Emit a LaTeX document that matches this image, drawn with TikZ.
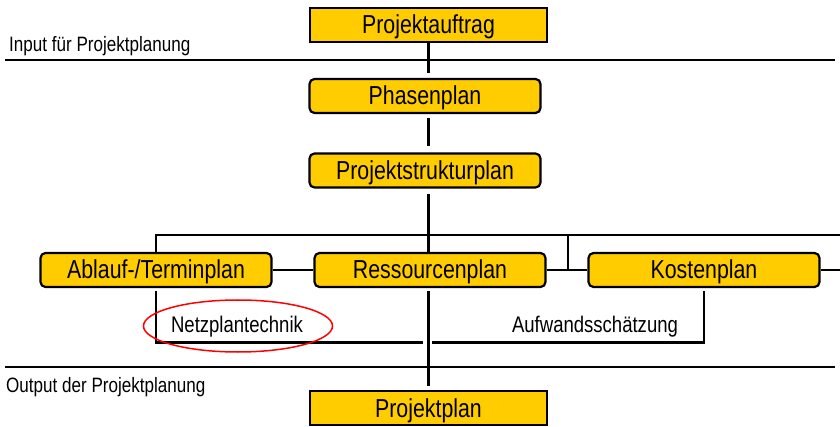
\documentclass[tikz,border=0pt]{standalone}
\usepackage{fontspec}
\setmainfont[FakeStretch=0.82]{Liberation Sans}
\usetikzlibrary{positioning}
\definecolor{planyellow}{HTML}{FFCC00}

\begin{document}
\begin{tikzpicture}[x=1pt,y=-1pt,box/.style={draw, fill=planyellow, line width=2.2pt, rounded corners=5pt, minimum width=231pt, minimum height=34pt, inner sep=0pt, text height=18pt, text depth=0pt, font=\fontsize{26}{30}\selectfont},squarebox/.style={box, sharp corners, minimum width=237pt},line/.style={line width=2.2pt},label/.style={inner sep=0pt, font=\fontsize{20.8}{25}\selectfont},method/.style={label, font=\fontsize{22.6}{26}\selectfont}]
\useasboundingbox (0,0) rectangle (840,427);
% input / output separators
\draw[line] (5,60) -- (835,60);
\draw[line] (5,367) -- (835,367);
\node[label, anchor=base west] (input) at (9,52) {Input für Projektplanung};
\node[label, anchor=base west] (output) at (6,392) {Output der Projektplanung};
% planning boxes
\node[squarebox] (auftrag) at (428.5,25) {Projektauftrag};
\node[box] (phasen) at (425,96) {Phasenplan};
\node[box] (struktur) at (425,170.5) {Projektstrukturplan};
\node[box] (ablauf) at (156,270) {Ablauf-/Terminplan};
\node[box] (ressourcen) at (430,270) {Ressourcenplan};
\node[box] (kosten) at (704,270) {Kostenplan};
\node[squarebox] (plan) at (428.5,408) {Projektplan};
% spine
\draw[line, shorten >=5pt] (auftrag.south) -- (phasen.north -| auftrag.south);
\draw[line, shorten <=4pt, shorten >=6pt] (phasen.south -| auftrag.south) -- (struktur.north -| auftrag.south);
\draw[line, shorten <=5pt] (struktur.south -| auftrag.south) -- (ressourcen.north -| auftrag.south);
\draw[line, shorten <=3pt, shorten >=4pt] (ressourcen.south -| auftrag.south) -- (plan.north);
% branches
\coordinate (oben) at (840,235);
\coordinate (knick) at (568,235);
\coordinate (rechts) at (840,270);
\draw[line] (ablauf.north) |- (oben);
\draw[line] (knick) -- (knick |- kosten.west);
\draw[line] (ablauf) -- (ressourcen);
\draw[line] (ressourcen) -- (kosten);
\draw[line] (kosten) -- (rechts);
% methods
\coordinate (zulinks) at (423,342.5);
\coordinate (zurechts) at (432,342.5);
\draw[line, shorten <=3pt] (ablauf.south) |- (zulinks);
\draw[line, shorten <=3pt] (kosten.south) |- (zurechts);
\node[method, anchor=base] (netz) at (237,332.5) {Netzplantechnik};
\node[method, anchor=base] (aufwand) at (595,332.5) {Aufwandsschätzung};
\draw[red, line width=1.5pt] (238,326) ellipse [x radius=94.5, y radius=26];
\end{tikzpicture}
\end{document}
